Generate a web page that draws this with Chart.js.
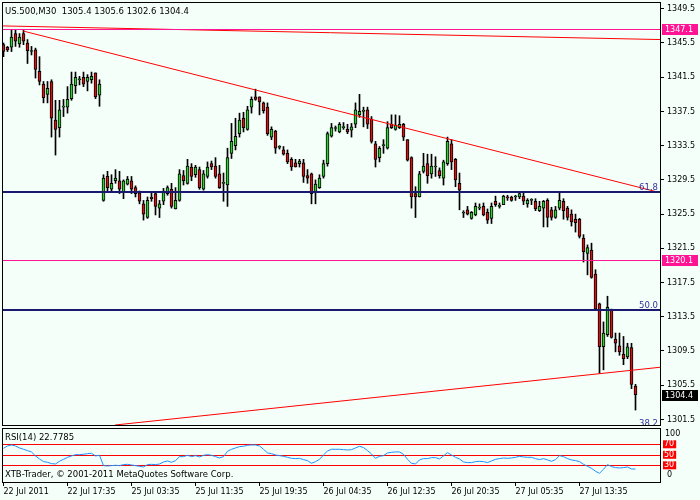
<!DOCTYPE html>
<html>
<head>
<meta charset="utf-8">
<script src="https://cdn.jsdelivr.net/npm/chart.js@4.4.1/dist/chart.umd.min.js"></script>
<style>
  html, body { margin: 0; padding: 0; background: #f5fffa; }
  #wrap { position: relative; width: 700px; height: 500px; }
  #price { position: absolute; left: 0; top: 0; }
  #rsi { position: absolute; left: 0; top: 427px; }
</style>
</head>
<body>
<div id="wrap">
  <canvas id="price" width="700" height="427"></canvas>
  <canvas id="rsi" width="700" height="73"></canvas>
</div>
<script>
const symbolTitle = 'US.500,M30  1305.4 1305.6 1302.6 1304.4';

// M30 candles, oldest first
const opens = [1345.3, 1345.0, 1345.0, 1346.6, 1345.4, 1346.6, 1345.5, 1344.5, 1344.7, 1342.2,
  1340.7, 1339.5, 1341.0, 1336.5, 1335.6, 1338.0, 1338.0, 1339.0, 1340.5, 1341.2,
  1341.5, 1341.0, 1341.2, 1342.0, 1339.4, 1327.1, 1329.9, 1328.4, 1329.4, 1329.4,
  1328.1, 1329.0, 1329.4, 1328.6, 1328.0, 1326.7, 1325.1, 1327.5, 1327.9, 1326.2,
  1327.0, 1327.9, 1328.4, 1326.1, 1327.1, 1330.0, 1329.1, 1331.0, 1330.1, 1330.7,
  1328.4, 1329.9, 1331.4, 1331.1, 1330.2, 1329.1, 1328.9, 1332.6, 1333.5, 1334.9,
  1336.7, 1335.4, 1338.0, 1339.2, 1339.2, 1338.5, 1338.0, 1334.5, 1335.2, 1333.3,
  1333.0, 1332.6, 1331.9, 1331.5, 1331.4, 1331.5, 1330.0, 1330.2, 1328.1, 1328.6,
  1329.9, 1331.4, 1334.6, 1335.5, 1335.1, 1335.6, 1335.4, 1335.3, 1336.0, 1337.1,
  1337.5, 1337.7, 1336.6, 1333.7, 1332.1, 1333.5, 1333.2, 1336.0, 1335.4, 1335.6,
  1336.0, 1334.2, 1332.1, 1327.9, 1327.5, 1330.5, 1331.4, 1330.2, 1331.0, 1330.6,
  1329.7, 1331.4, 1333.7, 1331.9, 1329.1, 1325.6, 1326.0, 1325.0, 1325.4, 1326.2,
  1326.4, 1325.7, 1325.0, 1327.0, 1326.4, 1326.6, 1327.5, 1327.5, 1327.5, 1327.5,
  1327.6, 1326.7, 1327.1, 1327.0, 1325.9, 1326.2, 1327.1, 1326.0, 1325.1, 1326.2,
  1327.0, 1326.2, 1325.5, 1324.9, 1324.9, 1322.7, 1320.9, 1321.3, 1318.5, 1315.0,
  1310.0, 1311.4, 1314.3, 1310.9, 1310.1, 1309.1, 1308.8, 1309.9, 1305.4];
const highs = [1345.5, 1345.1, 1347.1, 1347.1, 1346.6, 1347.0, 1345.9, 1345.1, 1344.9, 1343.9,
  1341.0, 1341.0, 1341.2, 1338.8, 1338.8, 1338.9, 1340.4, 1342.1, 1342.1, 1341.6,
  1342.1, 1341.8, 1342.1, 1342.0, 1341.2, 1330.1, 1330.5, 1330.1, 1330.7, 1330.5,
  1329.5, 1329.9, 1329.9, 1328.8, 1328.2, 1327.1, 1327.5, 1328.0, 1328.1, 1327.1,
  1328.5, 1328.8, 1329.1, 1328.6, 1330.7, 1330.6, 1331.9, 1331.4, 1331.2, 1331.0,
  1330.6, 1331.6, 1331.7, 1332.1, 1331.2, 1330.3, 1333.2, 1336.1, 1336.7, 1337.3,
  1337.4, 1338.1, 1339.2, 1340.1, 1339.2, 1338.6, 1338.5, 1335.7, 1335.3, 1333.5,
  1333.4, 1333.0, 1332.1, 1331.9, 1331.9, 1331.9, 1330.7, 1330.3, 1329.5, 1330.1,
  1331.8, 1335.1, 1336.1, 1335.8, 1336.2, 1336.2, 1336.0, 1336.1, 1338.5, 1339.5,
  1338.0, 1338.0, 1336.9, 1334.0, 1333.4, 1334.2, 1336.3, 1337.1, 1337.1, 1337.0,
  1336.1, 1334.2, 1332.2, 1328.7, 1330.5, 1332.6, 1332.5, 1332.5, 1332.2, 1330.9,
  1331.8, 1334.5, 1334.2, 1332.0, 1330.3, 1325.9, 1326.4, 1325.8, 1326.8, 1326.7,
  1326.8, 1326.1, 1326.8, 1327.6, 1326.8, 1327.7, 1327.7, 1327.6, 1327.7, 1328.1,
  1328.0, 1327.3, 1327.3, 1327.3, 1327.0, 1327.1, 1327.3, 1326.3, 1326.4, 1328.1,
  1327.3, 1326.4, 1326.0, 1325.5, 1325.0, 1323.1, 1321.9, 1322.1, 1319.0, 1315.1,
  1312.9, 1315.9, 1314.4, 1311.6, 1311.6, 1311.2, 1310.4, 1310.4, 1305.6];
const lows = [1343.9, 1344.5, 1344.5, 1345.1, 1345.0, 1345.3, 1343.1, 1344.1, 1341.4, 1340.6,
  1338.5, 1338.5, 1334.5, 1332.4, 1334.5, 1336.9, 1337.3, 1338.8, 1339.6, 1340.6,
  1340.4, 1339.9, 1340.8, 1339.0, 1338.1, 1327.0, 1328.1, 1328.1, 1329.1, 1327.9,
  1327.3, 1328.9, 1327.9, 1327.5, 1326.7, 1324.8, 1325.0, 1327.0, 1325.4, 1325.1,
  1326.6, 1327.7, 1326.2, 1326.1, 1327.0, 1328.9, 1329.0, 1329.4, 1329.8, 1328.4,
  1328.3, 1329.7, 1330.7, 1329.7, 1328.5, 1327.0, 1326.4, 1332.0, 1333.0, 1334.5,
  1335.1, 1335.3, 1337.3, 1338.8, 1337.1, 1337.3, 1334.7, 1334.2, 1332.6, 1333.1,
  1332.4, 1331.4, 1330.6, 1331.0, 1331.0, 1329.2, 1329.1, 1326.7, 1326.7, 1328.5,
  1329.7, 1331.1, 1334.5, 1335.2, 1335.0, 1335.4, 1334.9, 1334.5, 1335.6, 1336.8,
  1335.7, 1335.5, 1333.8, 1331.0, 1331.6, 1332.6, 1333.1, 1335.5, 1335.3, 1335.5,
  1334.1, 1331.7, 1326.2, 1325.1, 1327.5, 1330.3, 1329.1, 1329.7, 1329.9, 1329.7,
  1328.9, 1331.2, 1330.7, 1328.7, 1326.0, 1325.1, 1325.4, 1324.9, 1325.3, 1326.0,
  1325.3, 1324.4, 1324.4, 1326.4, 1326.2, 1326.6, 1327.1, 1327.0, 1327.1, 1327.3,
  1326.6, 1326.3, 1326.6, 1325.9, 1325.8, 1324.0, 1324.0, 1324.8, 1325.0, 1326.0,
  1324.9, 1324.8, 1324.1, 1323.4, 1322.7, 1319.9, 1318.4, 1318.0, 1314.3, 1306.9,
  1307.3, 1311.2, 1311.0, 1309.4, 1309.0, 1307.9, 1308.6, 1305.1, 1302.6];
const closes = [1344.5, 1344.7, 1346.2, 1345.7, 1346.2, 1345.7, 1344.6, 1344.5, 1342.4, 1341.0,
  1339.1, 1340.2, 1336.7, 1335.4, 1337.7, 1338.0, 1338.9, 1340.7, 1341.5, 1341.2,
  1340.7, 1341.5, 1341.6, 1339.2, 1340.7, 1329.7, 1328.6, 1329.1, 1329.7, 1328.4,
  1329.4, 1329.6, 1328.4, 1327.9, 1327.0, 1325.5, 1327.1, 1327.3, 1326.4, 1326.7,
  1328.1, 1328.6, 1326.4, 1327.1, 1330.2, 1329.4, 1331.1, 1329.9, 1331.0, 1328.6,
  1330.2, 1331.0, 1331.0, 1329.9, 1328.6, 1329.1, 1332.1, 1334.0, 1334.6, 1336.5,
  1335.6, 1337.7, 1338.9, 1338.9, 1338.6, 1337.6, 1334.9, 1335.4, 1333.2, 1333.3,
  1332.5, 1331.6, 1331.0, 1331.0, 1331.7, 1329.9, 1329.7, 1327.9, 1329.0, 1329.7,
  1331.4, 1334.9, 1335.6, 1335.5, 1336.0, 1335.6, 1335.1, 1335.7, 1337.7, 1337.5,
  1337.5, 1336.0, 1334.0, 1331.9, 1333.2, 1333.5, 1335.6, 1335.6, 1335.9, 1336.0,
  1334.5, 1331.8, 1327.5, 1327.5, 1330.2, 1331.1, 1330.0, 1331.1, 1331.0, 1330.0,
  1331.6, 1334.0, 1331.6, 1329.5, 1328.3, 1325.6, 1325.5, 1325.7, 1326.4, 1326.2,
  1325.4, 1324.8, 1326.4, 1326.6, 1326.4, 1327.6, 1327.4, 1327.1, 1327.5, 1327.9,
  1327.0, 1327.1, 1327.1, 1326.1, 1326.4, 1327.0, 1325.1, 1325.1, 1326.0, 1327.1,
  1325.9, 1325.1, 1324.6, 1324.5, 1322.9, 1321.1, 1321.6, 1318.1, 1314.4, 1310.0,
  1311.6, 1314.6, 1311.1, 1310.4, 1309.4, 1308.6, 1310.0, 1305.6, 1304.4];

// RSI(14), one value per candle
const rsiValues = [62.4, 66.8, 68.7, 66.8, 63.0, 60.5, 57.9, 55.4, 47.8, 42.1,
  37.0, 35.7, 33.2, 32.5, 37.6, 41.4, 45.2, 47.8, 50.3, 50.3,
  51.0, 52.2, 52.9, 47.8, 49.0, 29.4, 28.7, 29.4, 30.0, 29.4,
  31.3, 31.9, 30.6, 29.4, 28.1, 26.8, 31.3, 31.9, 31.3, 32.5,
  36.3, 38.3, 35.7, 38.9, 46.5, 46.5, 49.0, 46.5, 48.4, 45.9,
  49.0, 50.3, 49.0, 46.5, 44.0, 46.5, 56.7, 60.5, 63.0, 65.6,
  66.2, 68.1, 68.7, 68.7, 66.8, 60.5, 53.5, 52.2, 49.7, 48.4,
  47.1, 45.2, 43.3, 42.7, 43.3, 40.8, 38.9, 33.8, 37.0, 41.4,
  49.7, 57.3, 60.5, 60.5, 60.5, 59.8, 59.2, 59.8, 63.0, 66.2,
  63.7, 57.9, 51.6, 43.3, 47.1, 48.4, 53.5, 54.8, 55.4, 55.4,
  51.0, 41.4, 33.8, 32.5, 40.2, 42.7, 42.7, 44.6, 44.6, 42.1,
  47.8, 54.1, 49.7, 45.2, 42.1, 36.3, 35.1, 35.1, 37.0, 37.6,
  37.0, 35.1, 38.3, 41.4, 42.7, 44.0, 43.3, 44.0, 45.2, 47.1,
  45.9, 45.2, 45.2, 42.7, 40.8, 42.7, 40.2, 37.6, 40.8, 48.4,
  46.5, 42.7, 40.2, 38.9, 37.0, 31.9, 28.1, 24.3, 18.6, 14.8,
  22.4, 31.3, 27.5, 25.6, 24.9, 25.6, 26.8, 23.0, 22.8];
const rsiLabel = 'RSI(14) 22.7785';
const rsiLevels = [70, 50, 30];

const priceMin = 1300.85;
const priceMax = 1350.29;
const priceTicks = [1349.5, 1345.5, 1341.5, 1337.5, 1333.5, 1329.5, 1325.5, 1321.5, 1317.5, 1313.5, 1309.5, 1305.5, 1301.5];
const timeTickIdx = [0, 16, 32, 48, 64, 80, 96, 112, 128, 144];
const timeLabels = ['22 Jul 2011', '22 Jul 17:35', '25 Jul 03:35', '25 Jul 11:35', '25 Jul 19:35',
  '26 Jul 04:35', '26 Jul 12:35', '26 Jul 20:35', '27 Jul 05:35', '27 Jul 13:35'];

// chart objects: fibo levels, horizontal lines, trend lines (bar index, price)
const fibLevels = ['61.8', '50.0', '38.2'];
const fibPrices = [1328.1, 1314.3, 1300.5];
const pinkLevels = [1347.1, 1320.1];
const lastPrice = 1304.4;
const trendTop = [[-0.8, 1347.5], [164.2, 1345.9]];
const trendDown = [[4.9, 1346.9], [164.2, 1328.0]];
const trendUp = [[27.9, 1300.85], [164.2, 1307.6]];

const footerText = 'XTB-Trader, \u00a9 2001-2011 MetaQuotes Software Corp.';

const bull = '#32cd32';
const bear = '#d01414';
const navy = '#191970';
const pink = '#ff1493';
const fontFamily = '"DejaVu Sans", sans-serif';

Chart.defaults.font.family = fontFamily;
Chart.defaults.font.size = 8;
Chart.defaults.color = '#000';
Chart.defaults.animation = false;

const xMin = -0.375;
const xMax = 164.125;

function hline(ctx, area, py, color, width) {
  ctx.strokeStyle = color;
  ctx.lineWidth = width;
  ctx.beginPath();
  ctx.moveTo(area.left, py);
  ctx.lineTo(area.right, py);
  ctx.stroke();
}

function frame(ctx, a) {
  ctx.strokeStyle = '#000';
  ctx.lineWidth = 1;
  ctx.strokeRect(Math.round(a.left) + 0.5, Math.round(a.top) + 0.5,
    Math.round(a.right - a.left), Math.round(a.bottom - a.top));
}

const priceOverlay = {
  id: 'priceOverlay',
  afterDatasetsDraw(chart) {
    const { ctx, chartArea: a } = chart;
    const y = chart.scales.y;
    ctx.save();
    ctx.beginPath();
    ctx.rect(a.left, a.top, a.right - a.left, a.bottom - a.top);
    ctx.clip();
    pinkLevels.forEach(p => hline(ctx, a, Math.round(y.getPixelForValue(p)) + 0.5, pink, 1));
    ctx.font = '8.5px ' + fontFamily;
    ctx.textAlign = 'right';
    ctx.textBaseline = 'alphabetic';
    fibPrices.forEach((p, k) => {
      const py = Math.round(y.getPixelForValue(p));
      hline(ctx, a, py, navy, 2);
      ctx.fillStyle = '#30309a';
      ctx.fillText(fibLevels[k], a.right - 2, py - 2);
    });
    ctx.restore();
  },
  afterDraw(chart) {
    const { ctx, chartArea: a } = chart;
    const y = chart.scales.y;
    ctx.save();
    frame(ctx, a);
    ctx.font = '8.5px ' + fontFamily;
    ctx.fillStyle = '#000';
    ctx.textAlign = 'left';
    ctx.textBaseline = 'alphabetic';
    ctx.fillText(symbolTitle, 5, 14);
    const tags = pinkLevels.map(p => [p, pink]).concat([[lastPrice, '#000']]);
    ctx.font = '8px ' + fontFamily;
    ctx.textBaseline = 'middle';
    tags.forEach(([p, c]) => {
      const py = Math.round(y.getPixelForValue(p));
      ctx.fillStyle = c;
      ctx.fillRect(a.right + 2, py - 5, 36, 11);
      ctx.fillStyle = '#fff';
      ctx.fillText(p.toFixed(1), a.right + 5, py + 0.5);
    });
    ctx.restore();
  }
};

const rsiOverlay = {
  id: 'rsiOverlay',
  beforeDatasetsDraw(chart) {
    const { ctx, chartArea: a } = chart;
    const y = chart.scales.y;
    ctx.save();
    rsiLevels.forEach(v => hline(ctx, a, Math.round(y.getPixelForValue(v)) + 0.5, '#ff0000', 1));
    ctx.restore();
  },
  afterDraw(chart) {
    const { ctx, chartArea: a } = chart;
    ctx.save();
    frame(ctx, a);
    ctx.fillStyle = '#000';
    ctx.textAlign = 'left';
    ctx.textBaseline = 'alphabetic';
    ctx.font = '8.5px ' + fontFamily;
    ctx.fillText(rsiLabel, 5, 12.5);
    ctx.fillText(footerText, 5, 50);
    ctx.font = '8px ' + fontFamily;
    ctx.fillText('100', a.right + 5, 9);
    ctx.fillText('0', a.right + 7, 50);
    ctx.restore();
  }
};

const idx = opens.map((_, i) => i);
const wicks = idx.map(i => ({ x: i, y: [lows[i], highs[i]] }));
const bodies = idx.map(i => ({ x: i, y: [opens[i], closes[i]] }));
const bodyColors = idx.map(i => (closes[i] >= opens[i] ? bull : bear));
const toPts = seg => seg.map(([x, y]) => ({ x, y }));

function trendSet(seg) {
  return {
    type: 'line',
    data: toPts(seg),
    borderColor: '#ff0000',
    borderWidth: 1,
    pointRadius: 0,
    order: 0
  };
}

new Chart(document.getElementById('price'), {
  type: 'bar',
  data: {
    datasets: [
      { data: wicks, backgroundColor: '#000', borderWidth: 0, barThickness: 1, grouped: false, order: 3 },
      {
        data: bodies,
        backgroundColor: bodyColors,
        borderColor: '#000',
        borderWidth: 1,
        borderSkipped: false,
        barThickness: 3,
        minBarLength: 1,
        grouped: false,
        order: 2
      },
      trendSet(trendTop),
      trendSet(trendDown),
      trendSet(trendUp)
    ]
  },
  options: {
    responsive: false,
    layout: { padding: { left: 2, top: 2, right: 0, bottom: 2 } },
    plugins: { legend: { display: false }, tooltip: { enabled: false } },
    scales: {
      x: { type: 'linear', min: xMin, max: xMax, offset: false, display: false },
      y: {
        position: 'right',
        min: priceMin,
        max: priceMax,
        border: { display: false },
        grid: { drawOnChartArea: false, color: '#000', tickLength: 4 },
        ticks: { padding: 3, font: { size: 8, lineHeight: 1 }, callback: v => v.toFixed(1) },
        afterBuildTicks: s => { s.ticks = priceTicks.map(v => ({ value: v })); },
        afterFit: s => { s.width = 40; s.paddingTop = 0; s.paddingBottom = 0; }
      }
    }
  },
  plugins: [priceOverlay]
});

new Chart(document.getElementById('rsi'), {
  type: 'line',
  data: {
    datasets: [{
      data: idx.map(i => ({ x: i, y: rsiValues[i] })),
      borderColor: '#1e90ff',
      borderWidth: 1,
      pointRadius: 0,
      tension: 0
    }]
  },
  options: {
    responsive: false,
    layout: { padding: { left: 2, top: 1, right: 0, bottom: 0 } },
    plugins: { legend: { display: false }, tooltip: { enabled: false } },
    scales: {
      x: {
        type: 'linear',
        min: xMin,
        max: xMax,
        offset: false,
        border: { display: false },
        grid: { drawOnChartArea: false, color: '#000', tickLength: 4 },
        ticks: {
          align: 'start',
          maxRotation: 0,
          autoSkip: false,
          padding: 1,
          font: { size: 8 },
          callback: (v, k) => timeLabels[k]
        },
        afterBuildTicks: s => { s.ticks = timeTickIdx.map(v => ({ value: v })); },
        afterFit: s => { s.height = 18; s.paddingLeft = 0; s.paddingRight = 0; }
      },
      y: {
        position: 'right',
        min: -1.8,
        max: 101,
        border: { display: false },
        grid: { drawOnChartArea: false, drawTicks: false },
        ticks: {
          padding: 4,
          color: '#fff',
          showLabelBackdrop: true,
          backdropColor: '#ff0000',
          backdropPadding: { top: 0, bottom: 0, left: 1, right: 2 },
          font: { size: 8, lineHeight: 1 }
        },
        afterBuildTicks: s => { s.ticks = rsiLevels.map(v => ({ value: v })); },
        afterFit: s => { s.width = 40; s.paddingTop = 0; s.paddingBottom = 0; }
      }
    }
  },
  plugins: [rsiOverlay]
});
</script>
</body>
</html>
